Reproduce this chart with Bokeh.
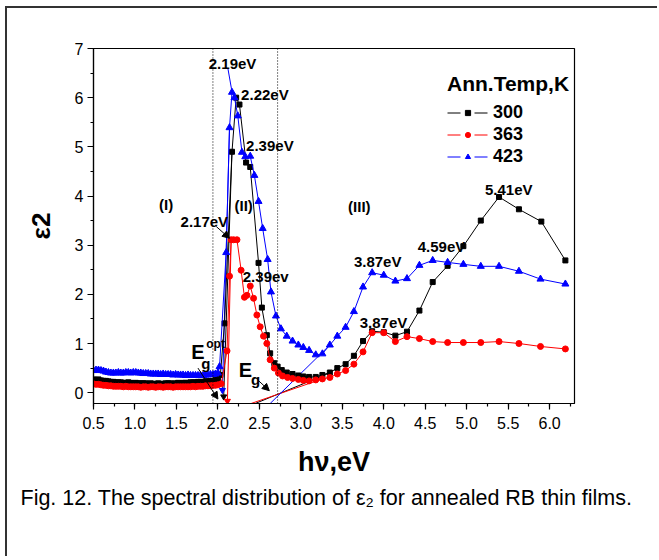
from bokeh.plotting import figure
from bokeh.models import (Label, Span, Arrow, NormalHead, Legend, LegendItem, Range1d, Title,
                          SingleIntervalTicker, NumeralTickFormatter)
from bokeh.embed import file_html
from bokeh.resources import INLINE

FONT = "Liberation Sans"
NAN = float("nan")

# ---------------- data ----------------
hv_low = [0.50, 0.53, 0.56, 0.59, 0.62, 0.65, 0.68, 0.71, 0.74, 0.77,
          0.80, 0.83, 0.86, 0.89, 0.92, 0.95, 0.98, 1.01, 1.04, 1.07,
          1.10, 1.13, 1.16, 1.19, 1.22, 1.25, 1.28, 1.31, 1.34, 1.37,
          1.40, 1.43, 1.46, 1.49, 1.52, 1.55, 1.58, 1.61, 1.64, 1.67,
          1.70, 1.73, 1.76, 1.79, 1.82, 1.85, 1.88, 1.91, 1.94, 1.97]
eps_300_low = [0.27, 0.26, 0.27, 0.25, 0.24, 0.24, 0.23, 0.22, 0.22, 0.21,
               0.21, 0.21, 0.20, 0.20, 0.21, 0.20, 0.19, 0.20, 0.19, 0.19,
               0.19, 0.19, 0.18, 0.19, 0.18, 0.18, 0.19, 0.18, 0.18, 0.19,
               0.19, 0.19, 0.18, 0.19, 0.20, 0.19, 0.20, 0.20, 0.20, 0.21,
               0.21, 0.21, 0.22, 0.22, 0.22, 0.23, 0.23, 0.24, 0.24, 0.26]
eps_363_low = [0.18, 0.17, 0.17, 0.16, 0.15, 0.15, 0.14, 0.14, 0.13, 0.13,
               0.13, 0.13, 0.12, 0.13, 0.12, 0.12, 0.12, 0.12, 0.12, 0.11,
               0.12, 0.12, 0.11, 0.12, 0.12, 0.11, 0.12, 0.12, 0.11, 0.12,
               0.12, 0.12, 0.11, 0.12, 0.12, 0.12, 0.12, 0.12, 0.12, 0.12,
               0.13, 0.12, 0.13, 0.13, 0.13, 0.14, 0.14, 0.14, 0.15, 0.15]
eps_423_low = [0.45, 0.46, 0.46, 0.45, 0.44, 0.42, 0.41, 0.40, 0.40, 0.40,
               0.41, 0.40, 0.40, 0.41, 0.41, 0.40, 0.41, 0.41, 0.40, 0.40,
               0.39, 0.39, 0.39, 0.38, 0.38, 0.38, 0.38, 0.37, 0.38, 0.37,
               0.37, 0.37, 0.36, 0.37, 0.36, 0.36, 0.36, 0.35, 0.36, 0.35,
               0.35, 0.35, 0.35, 0.35, 0.35, 0.36, 0.36, 0.37, 0.37, 0.38]

hv_300 = [2.00, 2.03, 2.08, 2.17, 2.22, 2.26, 2.34, 2.39, 2.49, 2.53,
          2.59, 2.63, 2.68, 2.72, 2.77, 2.83, 2.90, 2.97, 3.03, 3.10,
          3.18, 3.26, 3.35, 3.44, 3.54, 3.64, 3.75, 3.86, 4.00, 4.14,
          4.28, 4.43, 4.59, 4.77, 4.96, 5.17, 5.39, 5.63, 5.90, 6.19]
eps_300 = [0.28, 0.36, 1.41, 4.90, 6.00, 5.86, 4.68, 4.59, 2.64, 1.73,
           1.17, 0.80, 0.60, 0.53, 0.46, 0.41, 0.38, 0.35, 0.33, 0.32,
           0.32, 0.36, 0.41, 0.50, 0.58, 0.75, 1.05, 1.25, 1.23, 1.16,
           1.24, 1.67, 2.25, 2.58, 2.98, 3.50, 3.98, 3.73, 3.48, 2.69]

hv_363 = [2.00, 2.04, 2.11, 2.14, 2.16, 2.19, 2.23, 2.28, 2.32, 2.35,
          2.39, 2.43, 2.47, 2.51, 2.55, 2.59, 2.63, 2.68, 2.73, 2.78,
          2.84, 2.90, 2.97, 3.03, 3.10, 3.18, 3.26, 3.35, 3.44, 3.54,
          3.64, 3.75, 3.86, 4.00, 4.14, 4.28, 4.43, 4.59, 4.77, 4.96,
          5.17, 5.39, 5.63, 5.89, 6.19]
eps_363 = [0.16, 0.18, 0.85, 2.37, 3.11, 3.11, 3.11, 2.49, 1.94, 1.98,
           2.17, 1.92, 1.58, 1.34, 1.15, 1.00, 0.67, 0.50, 0.40, 0.34,
           0.31, 0.29, 0.27, 0.25, 0.24, 0.26, 0.28, 0.31, 0.38, 0.45,
           0.58, 0.83, 1.22, 1.22, 1.04, 1.14, 1.10, 1.04, 1.02, 1.02,
           1.02, 1.04, 1.00, 0.94, 0.89]

hv_423 = [2.00, 2.02, 2.10, 2.14, 2.17, 2.20, 2.24, 2.29, 2.33, 2.39,
          2.44, 2.49, 2.54, 2.60, 2.64, 2.70, 2.76, 2.83, 2.90, 2.97,
          3.03, 3.10, 3.18, 3.26, 3.35, 3.44, 3.54, 3.64, 3.75, 3.86,
          4.00, 4.14, 4.28, 4.43, 4.59, 4.77, 4.96, 5.17, 5.39, 5.63,
          5.89, 6.19]
eps_423 = [0.40, 0.53, 2.85, 5.39, 6.11, 6.00, 5.63, 4.89, 4.80, 4.81,
           4.42, 3.89, 3.34, 2.71, 2.05, 1.56, 1.30, 1.15, 1.05, 0.97,
           0.92, 0.86, 0.77, 0.79, 0.97, 1.15, 1.33, 1.65, 2.15, 2.44,
           2.39, 2.27, 2.32, 2.59, 2.69, 2.65, 2.61, 2.57, 2.57, 2.47,
           2.31, 2.21]

# tangent (extrapolation) lines used for the gaps
opt_fit_hv = {"300": [2.17, 2.07], "363": [2.16, 2.115], "423": [2.14, 2.055]}
opt_fit_eps = {"300": [4.90, -0.08], "363": [3.11, -0.17], "423": [5.39, 0.05]}
gap_fit_hv = {"300": [2.45, 3.36], "363": [2.40, 3.26], "423": [2.63, 3.35]}
gap_fit_eps = {"300": [-0.22, 0.41], "363": [-0.22, 0.28], "423": [-0.22, 0.97]}

region_bounds = [1.94, 2.72]
temps = ["300", "363", "423"]
caption = "Fig. 12. The spectral distribution of ε₂ for annealed RB thin films."

# ---------------- figure ----------------
p = figure(width=657, height=556, x_range=Range1d(0.5, 6.3), y_range=Range1d(-0.22, 7.0),
           output_backend="svg", toolbar_location=None,
           min_border_left=93, min_border_right=83, min_border_top=48, min_border_bottom=153)
# outer panel frame: only its top and left edges fall inside the window
p.styles = {"box-shadow": "inset 5px 6px 0 0 #ffffff, inset 7px 8px 0 0 #333333"}
p.grid.visible = False
p.outline_line_color = "black"
p.outline_line_width = 1.2
p.background_fill_color = "white"
p.border_fill_alpha = 0

p.xaxis.ticker = SingleIntervalTicker(interval=0.5, num_minor_ticks=2)
p.yaxis.ticker = SingleIntervalTicker(interval=1, num_minor_ticks=2)
p.xaxis.formatter = NumeralTickFormatter(format="0.0")
for ax in (p.xaxis, p.yaxis):
    ax.axis_line_width = 1.2
    ax.major_tick_in = 0
    ax.major_tick_out = 6
    ax.minor_tick_in = 0
    ax.minor_tick_out = 3
    ax.major_tick_line_width = 1.2
    ax.minor_tick_line_width = 1.2
    ax.major_label_text_font = FONT
    ax.major_label_text_font_size = "16px"
    ax.major_label_text_color = "black"
    ax.axis_label_text_font = FONT
    ax.axis_label_text_font_style = "bold"
    ax.axis_label_text_color = "black"
p.xaxis.axis_label = "hν,eV"
p.yaxis.axis_label = "ε2"
p.xaxis.axis_label_text_font_size = "27px"
p.yaxis.axis_label_text_font_size = "26px"
p.xaxis.major_label_standoff = 7
p.yaxis.major_label_standoff = 4
p.xaxis.axis_label_standoff = 15
p.yaxis.axis_label_standoff = 16

cap = Title(text=caption, align="left", offset=-73, standoff=9,
            text_font=FONT, text_font_size="21.5px", text_font_style="normal",
            text_color="black")
p.add_layout(cap, "below")

for loc in region_bounds:
    p.add_layout(Span(location=loc, dimension="height", line_color="black",
                      line_width=1, line_dash="1 2"))

colors = {"300": "black", "363": "red", "423": "blue"}
markers = {"300": "square", "363": "circle", "423": "triangle"}
sizes = {"300": 5, "363": 6, "423": 7}
series = {
    "300": (hv_low + hv_300, eps_300_low + eps_300),
    "363": (hv_low + hv_363, eps_363_low + eps_363),
    "423": (hv_low + hv_423, eps_423_low + eps_423),
}

# fit lines
for t in temps:
    p.line(opt_fit_hv[t], opt_fit_eps[t], line_color=colors[t], line_width=1)
    p.scatter([opt_fit_hv[t][1]], [opt_fit_eps[t][1]], marker="inverted_triangle",
              size=6, color=colors[t])
    p.line(gap_fit_hv[t], gap_fit_eps[t], line_color=colors[t], line_width=1)

marker_renderers = {}
for t in temps:
    xs, ys = series[t]
    p.line(xs, ys, line_color=colors[t], line_width=1)
    marker_renderers[t] = p.scatter(xs, ys, marker=markers[t], size=sizes[t], color=colors[t])

# blue pointer to the 2.19 eV peak
p.line([2.12, 2.17], [6.60, 6.12], line_color="blue", line_width=1)

# ---------------- annotations ----------------
def lab(x, y, text, size="15px", **kw):
    p.add_layout(Label(x=x, y=y, text=text, text_font=FONT, text_font_style="bold",
                       text_font_size=size, text_baseline="middle", text_align="left",
                       text_color="black", **kw))

lab(1.89, 6.70, "2.19eV")
lab(2.28, 6.07, "2.22eV")
lab(2.34, 5.02, "2.39eV")
lab(1.29, 3.82, "(I)")
lab(2.20, 3.80, "(II)")
lab(1.55, 3.49, "2.17eV")
lab(3.57, 3.78, "(III)")
lab(5.22, 4.14, "5.41eV")
lab(4.41, 2.98, "4.59eV")
lab(3.64, 2.66, "3.87eV")
lab(3.71, 1.42, "3.87eV")
lab(2.30, 2.37, "2.39ev")
lab(1.68, 0.83, "E", size="20px")
lab(1.80, 0.60, "g", size="15px")
lab(1.86, 1.00, "opt", size="12px")
lab(2.25, 0.46, "E", size="20px")
lab(2.40, 0.27, "g", size="15px")

def arrow(x0, y0, x1, y1):
    p.add_layout(Arrow(end=NormalHead(size=7, fill_color="black", line_color="black"),
                       x_start=x0, y_start=y0, x_end=x1, y_end=y1,
                       line_color="black", line_width=1))

arrow(1.76, 0.50, 2.00, -0.13)
arrow(2.48, 0.26, 2.62, 0.04)
arrow(1.98, 3.38, 2.14, 3.14)

# ---------------- legend ----------------
items = []
for t in temps:
    r_line = p.line(x=[NAN, NAN], y=[NAN, NAN], line_color=colors[t], line_width=1,
                    line_dash="13 14")
    items.append(LegendItem(label=t, renderers=[r_line, marker_renderers[t]]))
legend = Legend(items=items, title="Ann.Temp,K", location=(354, 236),
                title_text_font=FONT, title_text_font_style="bold", title_text_font_size="21px",
                title_text_color="black",
                label_text_font=FONT, label_text_font_style="bold", label_text_font_size="18px",
                label_text_color="black",
                glyph_width=41, glyph_height=13, label_height=20, label_standoff=5,
                spacing=1, padding=0, margin=0, border_line_color=None,
                background_fill_alpha=0, title_standoff=6)
p.add_layout(legend)

open("out.html", "w").write(file_html(p, INLINE))
